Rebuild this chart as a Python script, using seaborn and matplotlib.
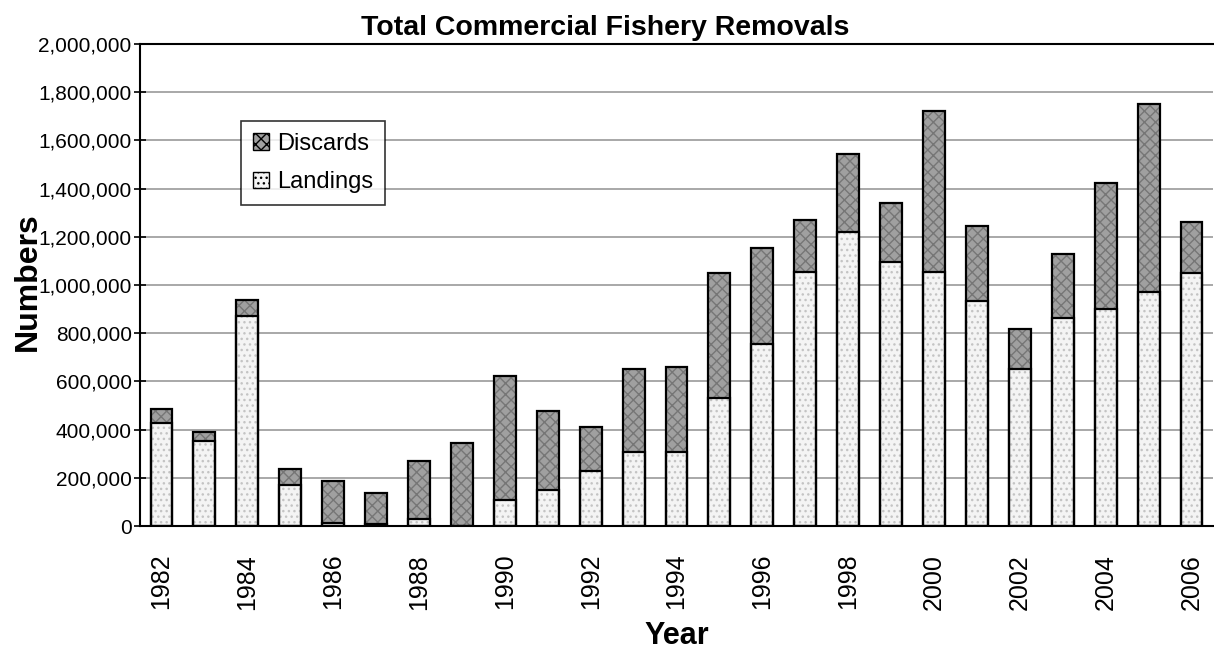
import matplotlib
matplotlib.use("Agg")
import matplotlib.pyplot as plt
import matplotlib.ticker as mticker
import matplotlib.patches as mpatches
import seaborn as sns
import pandas as pd
import numpy as np

years = [str(y) for y in range(1982, 2007)]
landings = [426, 354, 871, 171, 14, 8, 30, 2, 108, 149, 228, 306, 306, 532, 757,
            1055, 1219, 1097, 1055, 935, 653, 864, 900, 970, 1049]
discards = [58, 37, 67, 64, 171, 128, 241, 341, 516, 327, 184, 347, 354, 518, 398,
            214, 323, 243, 667, 311, 163, 263, 525, 781, 211]
landings = [v * 1000 for v in landings]
discards = [v * 1000 for v in discards]
yticks = list(range(0, 2000001, 200000))
xlabels_shown = [str(y) for y in range(1982, 2007, 2)]

sns.set_theme(style="white")
plt.rcParams['font.family'] = ['Liberation Sans', 'DejaVu Sans']
plt.rcParams['hatch.linewidth'] = 1.0
plt.rcParams['text.color'] = 'black'
plt.rcParams['axes.labelcolor'] = 'black'
plt.rcParams['xtick.color'] = 'black'
plt.rcParams['ytick.color'] = 'black'

df = pd.DataFrame({"Year": years, "Landings": landings, "Discards": discards})
df["Total"] = df["Landings"] + df["Discards"]

fig = plt.figure(figsize=(12.14, 6.56), dpi=100)
ax = fig.add_axes([140/1214, 130/656, 1 - 140/1214 - 1/1214, (526-44)/656])

bw = 0.51
# hatched fills
sns.barplot(data=df, x="Year", y="Total", order=years, color="#a0a0a0", width=bw,
            ax=ax, hatch="xxx", edgecolor="#767676", linewidth=0, saturation=1, zorder=2)
sns.barplot(data=df, x="Year", y="Landings", order=years, color="#f4f4f4", width=bw,
            ax=ax, hatch="...", edgecolor="#c4c4c4", linewidth=0, saturation=1, zorder=3)
# black outlines
sns.barplot(data=df, x="Year", y="Total", order=years, fill=False, width=bw,
            ax=ax, edgecolor="black", linewidth=1.6, zorder=4)
sns.barplot(data=df, x="Year", y="Landings", order=years, fill=False, width=bw,
            ax=ax, edgecolor="black", linewidth=1.6, zorder=5)

ax.set_xlim(-0.5, len(years) - 0.5)
ax.set_ylim(0, 2000000)
ax.set_yticks(yticks)
ax.yaxis.set_major_formatter(mticker.FuncFormatter(lambda v, p: f"{int(v):,}"))
ax.grid(axis="y", color="#9a9a9a", linewidth=1.2, zorder=0)
ax.set_axisbelow(True)

ax.set_xticks([years.index(y) for y in xlabels_shown])
ax.set_xticklabels(xlabels_shown, rotation=90, fontsize=18)
ax.xaxis.set_minor_locator(mticker.FixedLocator(np.arange(-0.5, len(years), 1.0)))
ax.tick_params(axis="x", which="major", length=0, pad=20)
ax.tick_params(axis="x", which="minor", length=8, width=1.2, direction="out", color="black")
ax.tick_params(axis="y", which="major", length=8, width=1.2, direction="inout",
               labelsize=15, pad=2, color="black", left=True)

for s in ["left", "bottom", "top"]:
    ax.spines[s].set_visible(True)
    ax.spines[s].set_color("black")
    ax.spines[s].set_linewidth(1.5)
ax.spines["right"].set_visible(False)

ax.set_xlabel("Year", fontsize=22, fontweight="bold", labelpad=8)
ax.set_ylabel("")
fig.text(28/1214, 1 - 282/656, "Numbers", rotation=90, fontsize=23, fontweight="bold",
         ha="center", va="center")
fig.text(605/1214, 1 - 28/656, "Total Commercial Fishery Removals", fontsize=20.5,
         fontweight="bold", ha="center", va="center")

h1 = mpatches.Patch(facecolor="#a0a0a0", edgecolor="black", hatch="xxx", label="Discards")
h2 = mpatches.Patch(facecolor="#f4f4f4", edgecolor="black", hatch="...", label="Landings")
leg = ax.legend(handles=[h1, h2], loc="upper left", bbox_to_anchor=(0.094, 0.84),
                fontsize=17, frameon=True, fancybox=False, edgecolor="black",
                handlelength=0.7, handleheight=0.7, handletextpad=0.35,
                borderpad=0.5, labelspacing=0.7, borderaxespad=0)
leg.get_frame().set_linewidth(1.2)

fig.savefig("out.png", dpi=100)
